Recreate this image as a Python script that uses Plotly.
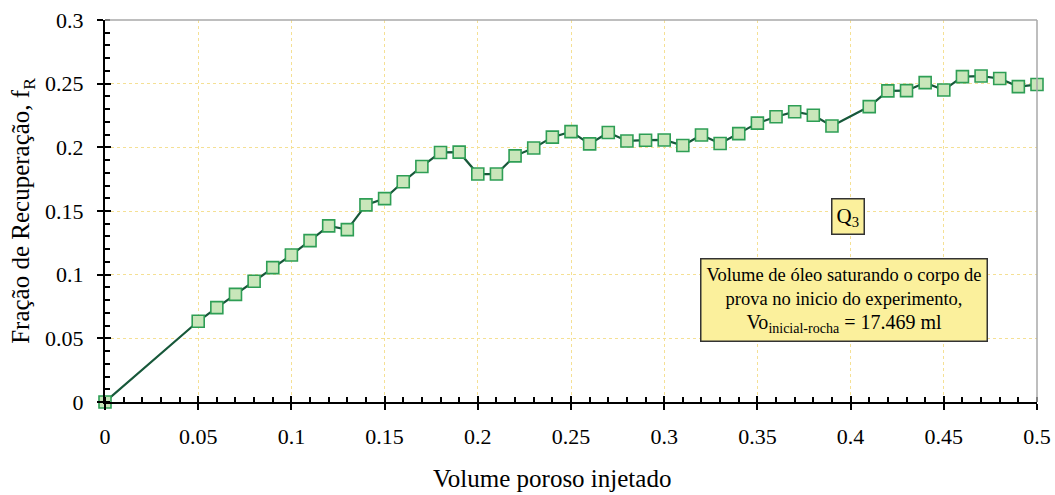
import plotly.graph_objects as go

# Volume poroso injetado (PV) and fração de recuperação
pv_injetado = [0.00, 0.05, 0.06, 0.07, 0.08, 0.09, 0.10, 0.11, 0.12, 0.13,
               0.14, 0.15, 0.16, 0.17, 0.18, 0.19, 0.20, 0.21, 0.22, 0.23,
               0.24, 0.25, 0.26, 0.27, 0.28, 0.29, 0.30, 0.31, 0.32, 0.33,
               0.34, 0.35, 0.36, 0.37, 0.38, 0.39, 0.41, 0.42, 0.43, 0.44,
               0.45, 0.46, 0.47, 0.48, 0.49, 0.50]
fracao_rec = [0.000, 0.0634, 0.0741, 0.0845, 0.0948, 0.1055, 0.1155, 0.1267, 0.1383, 0.1354,
              0.1548, 0.1597, 0.1730, 0.1850, 0.1960, 0.1962, 0.1790, 0.1790, 0.1933, 0.1995,
              0.2080, 0.2123, 0.2027, 0.2116, 0.2050, 0.2056, 0.2058, 0.2014, 0.2097, 0.2030,
              0.2108, 0.2190, 0.2240, 0.2280, 0.2252, 0.2168, 0.2320, 0.2443, 0.2445, 0.2508,
              0.2450, 0.2555, 0.2560, 0.2540, 0.2477, 0.2493]

x_ticks = [0, 0.05, 0.1, 0.15, 0.2, 0.25, 0.3, 0.35, 0.4, 0.45, 0.5]
x_labels = ["0", "0.05", "0.1", "0.15", "0.2", "0.25", "0.3", "0.35", "0.4", "0.45", "0.5"]
y_ticks = [0, 0.05, 0.1, 0.15, 0.2, 0.25, 0.3]
y_labels = ["0", "0.05", "0.1", "0.15", "0.2", "0.25", "0.3"]

SERIF = "Liberation Serif, Times New Roman, serif"
GRID = "#F5E094"
BOX_FILL = "#FBF09C"

fig = go.Figure()
fig.add_trace(go.Scatter(
    x=pv_injetado, y=fracao_rec, mode="lines+markers",
    line=dict(color="#17583A", width=2.2),
    marker=dict(symbol="square", size=12, color="#C9E6BA",
                line=dict(color="#2E9E55", width=1.6)),
    showlegend=False, cliponaxis=False,
))

axis_common = dict(
    showline=True, linecolor="black", linewidth=2,
    ticks="outside", ticklen=6, tickwidth=2, tickcolor="black",
    showgrid=True, gridcolor=GRID, griddash="dot", gridwidth=1,
    zeroline=False, mirror=False, automargin=False,
    tickfont=dict(family=SERIF, size=22, color="black"),
    title_font=dict(family=SERIF, size=25, color="black"),
)

fig.update_xaxes(
    range=[0, 0.5], tickvals=x_ticks, ticktext=x_labels,
    ticklabelstandoff=8,
    minor=dict(ticks="inside", dtick=0.01, ticklen=5, tickwidth=2,
               tickcolor="black", showgrid=False),
    **axis_common,
)
fig.update_yaxes(
    range=[0, 0.3], tickvals=y_ticks, ticktext=y_labels,
    title_text="Fração de Recuperação, f<sub>R</sub>", title_standoff=8,
    ticklabelstandoff=9,
    minor=dict(ticks="inside", dtick=0.01, ticklen=5, tickwidth=2,
               tickcolor="black", showgrid=False),
    **axis_common,
)

# inner half of the crossing major ticks
fig.update_layout(
    xaxis2=dict(overlaying="x", range=[0, 0.5], tickvals=x_ticks, ticks="inside",
                ticklen=6, tickwidth=2, tickcolor="black", showticklabels=False,
                showgrid=False, zeroline=False, showline=False, side="bottom",
                anchor="y", automargin=False),
    yaxis2=dict(overlaying="y", range=[0, 0.3], tickvals=y_ticks, ticks="inside",
                ticklen=6, tickwidth=2, tickcolor="black", showticklabels=False,
                showgrid=False, zeroline=False, showline=False, side="left",
                anchor="x", automargin=False),
)
fig.add_trace(go.Scatter(x=[None], y=[None], xaxis="x2", yaxis="y2",
                         showlegend=False, hoverinfo="skip"))

# grey frame on the top and right sides
fig.add_shape(type="line", xref="paper", yref="paper", x0=0, x1=1, y0=1, y1=1,
              line=dict(color="#A8A8A8", width=1.5))
fig.add_shape(type="line", xref="paper", yref="paper", x0=1, x1=1, y0=0, y1=1,
              line=dict(color="#A8A8A8", width=1.5))

# x-axis title, set slightly left of the plot centre
fig.add_annotation(
    x=0.48, y=-0.199, xref="paper", yref="paper", showarrow=False,
    xanchor="center", yanchor="middle",
    text="Volume poroso injetado", font=dict(family=SERIF, size=25, color="black"),
)

fig.add_annotation(
    x=0.3985, y=0.146, xref="x", yref="y", showarrow=False,
    text="Q<sub>3</sub>", font=dict(family=SERIF, size=21, color="black"),
    bgcolor=BOX_FILL, bordercolor="#333333", borderwidth=1.5, borderpad=4,
)
fig.add_annotation(
    x=0.3962, y=0.0805, xref="x", yref="y", showarrow=False,
    text=("Volume de óleo saturando o corpo de<br>"
          "prova no inicio do experimento,<br>"
          "<span style='font-size:20px'>Vo<sub>inicial-rocha</sub> = 17.469 ml</span>"),
    font=dict(family=SERIF, size=18.5, color="black"),
    bgcolor=BOX_FILL, bordercolor="#333333", borderwidth=1.5, borderpad=5,
    align="center",
)

fig.update_layout(
    width=1055, height=495,
    margin=dict(l=105, r=18, t=20, b=93),
    plot_bgcolor="white", paper_bgcolor="white",
    font=dict(family=SERIF, color="black"),
)

fig.write_html("out.html")
